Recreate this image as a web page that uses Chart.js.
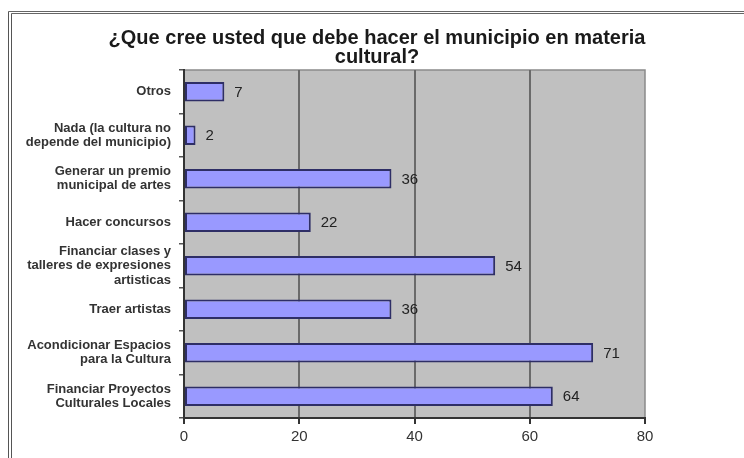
<!DOCTYPE html>
<html>
<head>
<meta charset="utf-8">
<script src="https://cdn.jsdelivr.net/npm/chart.js@4.4.0/dist/chart.umd.min.js"></script>
<style>
  html, body { margin: 0; padding: 0; background: #fff; overflow: hidden; width: 744px; height: 458px; }
  #marco { position: absolute; left: 8px; top: 11px; width: 900px; height: 600px;
           border-left: 4px double #555; border-top: 3px double #666; }
  #zona { position: absolute; left: 0; top: 0; width: 744px; height: 458px; }
</style>
</head>
<body>
<div id="marco"></div>
<div id="zona"><canvas id="grafico"></canvas></div>
<script>
// titulo del grafico
const titulo = ["¿Que cree usted que debe hacer el municipio en materia", "cultural?"]

// categorias (de arriba a abajo)
const categorias = [
  "Otros",
  ["Nada (la cultura no", "depende del municipio)"],
  ["Generar un premio", "municipal de artes"],
  "Hacer concursos",
  ["Financiar clases y", "talleres de expresiones", "artisticas"],
  "Traer artistas",
  ["Acondicionar Espacios", "para la Cultura"],
  ["Financiar Proyectos", "Culturales Locales"]
]

// respuestas por categoria
const respuestas = [7, 2, 36, 22, 54, 36, 71, 64]

// eje x
const ejeMin = 0
const ejeMax = 80
const ejePaso = 20

// fondo gris del area + titulo
const fondoPlugin = {
  id: "fondo",
  beforeDraw(chart) {
    const { ctx, chartArea: a } = chart
    ctx.save()
    ctx.fillStyle = "#c0c0c0"
    ctx.fillRect(a.left, a.top, a.right - a.left, a.bottom - a.top)
    ctx.strokeStyle = "#8a8a8a"
    ctx.lineWidth = 1.5
    ctx.strokeRect(a.left, a.top, a.right - a.left, a.bottom - a.top)
    ctx.restore()
  },
  afterDraw(chart) {
    const ctx = chart.ctx
    ctx.save()
    ctx.fillStyle = "#1a1a1a"
    ctx.font = "bold 20px 'Liberation Sans', Arial, sans-serif"
    ctx.textAlign = "center"
    ctx.textBaseline = "middle"
    for (let i = 0; i < titulo.length; i++) {
      ctx.fillText(titulo[i], chart.width / 2 + 5, 38 + i * 19)
    }
    ctx.restore()
  }
}

// valores al final de cada barra
const etiquetasPlugin = {
  id: "etiquetas",
  afterDatasetsDraw(chart) {
    const ctx = chart.ctx
    const meta = chart.getDatasetMeta(0)
    ctx.save()
    ctx.fillStyle = "#222"
    ctx.font = "15px 'Liberation Sans', Arial, sans-serif"
    ctx.textAlign = "left"
    ctx.textBaseline = "middle"
    meta.data.forEach((bar, i) => {
      ctx.fillText(respuestas[i], bar.x + 10, bar.y + 1)
    })
    ctx.restore()
  }
}

new Chart(document.getElementById("grafico"), {
  type: "bar",
  data: {
    labels: categorias,
    datasets: [{
      data: respuestas,
      backgroundColor: "#9999ff",
      borderColor: "#2e2e66",
      borderWidth: 2,
      borderSkipped: false,
      barPercentage: 0.45,
      categoryPercentage: 1
    }]
  },
  options: {
    indexAxis: "y",
    responsive: true,
    maintainAspectRatio: false,
    animation: false,
    layout: { padding: { top: 70, right: 99, left: 0, bottom: 0 } },
    plugins: { legend: { display: false }, tooltip: { enabled: false } },
    scales: {
      x: {
        min: ejeMin,
        max: ejeMax,
        ticks: { stepSize: ejePaso, color: "#333", padding: 4,
                 font: { size: 15, family: "'Liberation Sans', Arial, sans-serif" } },
        grid: { color: (c) => c.tick && (c.tick.value === ejeMin || c.tick.value === ejeMax) ? "rgba(0,0,0,0)" : "#6a6a6a",
                lineWidth: 2, tickLength: 6, tickColor: "#333" },
        border: { color: "#333", width: 2 },
        afterFit(scale) { scale.height = 40 }
      },
      y: {
        ticks: { color: "#333", padding: 8, autoSkip: false,
                 font: { size: 13, weight: "bold", family: "'Liberation Sans', Arial, sans-serif", lineHeight: 1.1 } },
        grid: { offset: true, drawOnChartArea: false, tickLength: 5, tickColor: "#555", lineWidth: 1.5 },
        border: { color: "#333", width: 2 },
        afterFit(scale) { scale.width = 184 }
      }
    }
  },
  plugins: [fondoPlugin, etiquetasPlugin]
})
</script>
</body>
</html>
